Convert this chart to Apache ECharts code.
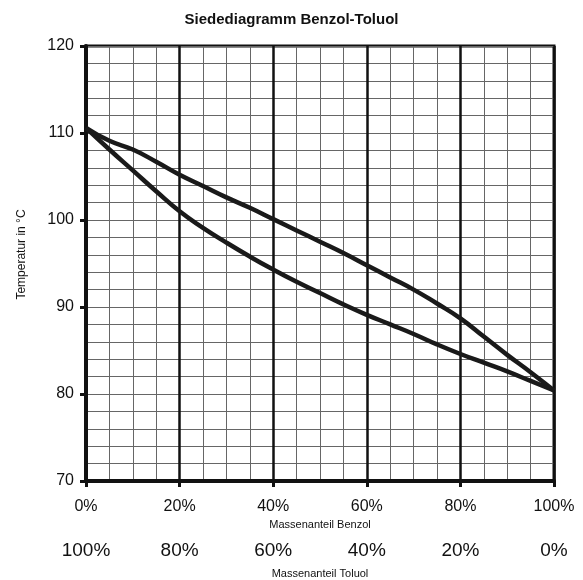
<!DOCTYPE html>
<html>
<head>
<meta charset="utf-8">
<script src="https://cdn.jsdelivr.net/npm/echarts@6/dist/echarts.min.js"></script>
<style>html,body{margin:0;padding:0;background:#fff}#c{width:583px;height:580px}</style>
</head>
<body>
<div id="c"></div>
<script>
const title = 'Siedediagramm Benzol-Toluol';
const xName1 = 'Massenanteil Benzol';
const xName2 = 'Massenanteil Toluol';
const yName = 'Temperatur in °C';
const benzolShare = [0,5,10,15,20,25,30,35,40,45,50,55,60,65,70,75,80,85,90,95,100];
const siedelinie = [110.6,108.1,105.7,103.3,101.0,99.1,97.4,95.8,94.3,92.9,91.6,90.3,89.1,88.0,86.9,85.7,84.6,83.6,82.6,81.5,80.4];
const taulinie  = [110.6,109.1,108.1,106.7,105.2,103.9,102.6,101.4,100.1,98.8,97.5,96.2,94.8,93.4,92.0,90.4,88.7,86.6,84.5,82.5,80.4];

const font = 'Liberation Sans, Arial, sans-serif';
const chart = echarts.init(document.getElementById('c'));
const pairs = a => benzolShare.map((x,i)=>[x,a[i]]);
chart.setOption({
  animation:false,
  title:{text:title,left:'center',top:7,textStyle:{fontFamily:font,fontSize:15,fontWeight:'bold',color:'#111'}},
  grid:{left:86,right:29,top:46,bottom:99,outerBoundsMode:'none',containLabel:false,show:true,borderColor:'#111',borderWidth:3,backgroundColor:'transparent'},
  xAxis:[
    {type:'value',min:0,max:100,interval:5,axisLine:{show:false},axisTick:{show:false},axisLabel:{show:false},
     splitLine:{show:true,lineStyle:{color:'#666',width:1}}},
    {type:'value',min:0,max:100,interval:20,position:'bottom',
     axisLine:{show:true,onZero:false,lineStyle:{color:'#111',width:4}},
     axisTick:{show:true,length:6,lineStyle:{color:'#111',width:3}},
     axisLabel:{fontFamily:font,fontSize:16,color:'#111',margin:18,formatter:v=>v+'%'},
     splitLine:{show:true,lineStyle:{color:'#111',width:2.5}},
     name:xName1,nameLocation:'middle',nameGap:38,nameTextStyle:{fontFamily:font,fontSize:11,color:'#111'}},
    {type:'value',min:0,max:100,interval:20,position:'bottom',offset:46,
     axisLine:{show:false},axisTick:{show:false},splitLine:{show:false},
     axisLabel:{fontFamily:font,fontSize:19,color:'#111',margin:14,formatter:v=>(100-v)+'%'},
     name:xName2,nameLocation:'middle',nameGap:41,nameTextStyle:{fontFamily:font,fontSize:11,color:'#111'}}
  ],
  yAxis:[
    {type:'value',min:70,max:120,interval:2,axisLine:{show:false},axisTick:{show:false},axisLabel:{show:false},
     splitLine:{show:true,lineStyle:{color:'#666',width:1}}},
    {type:'value',min:70,max:120,interval:10,position:'left',
     axisLine:{show:true,onZero:false,lineStyle:{color:'#111',width:4}},
     axisTick:{show:true,length:6,lineStyle:{color:'#111',width:3}},
     axisLabel:{fontFamily:font,fontSize:16,color:'#111',margin:12},
     splitLine:{show:false},
     name:yName,nameLocation:'middle',nameGap:58,nameRotate:90,nameTextStyle:{fontFamily:font,fontSize:12,color:'#111',padding:[0,0,0,18]}}
  ],
  series:[
    {type:'line',xAxisIndex:1,yAxisIndex:1,data:pairs(siedelinie),smooth:0.5,showSymbol:false,lineStyle:{color:'#1a1a1a',width:4.5},z:5},
    {type:'line',xAxisIndex:1,yAxisIndex:1,data:pairs(taulinie),smooth:0.5,showSymbol:false,lineStyle:{color:'#1a1a1a',width:4.5},z:5}
  ]
});
</script>
</body>
</html>
